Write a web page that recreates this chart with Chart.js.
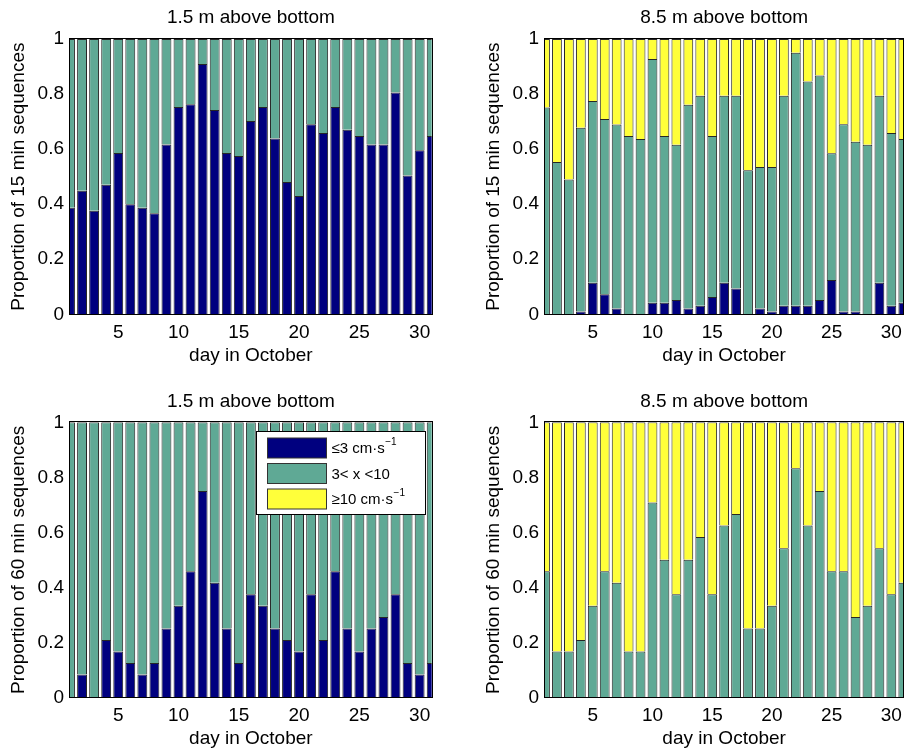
<!DOCTYPE html>
<html>
<head>
<meta charset="utf-8">
<script src="https://cdn.jsdelivr.net/npm/chart.js@4.4.1/dist/chart.umd.min.js"></script>
<style>
  html, body { margin: 0; padding: 0; background: #fff; }
  #wrap { position: relative; width: 909px; height: 754px; }
  #wrap canvas { position: absolute; left: 0; top: 0; }
</style>
</head>
<body>
<div id="wrap">
  <canvas id="p15low" width="909" height="754"></canvas>
  <canvas id="p15high" width="909" height="754"></canvas>
  <canvas id="p60low" width="909" height="754"></canvas>
  <canvas id="p60high" width="909" height="754"></canvas>
</div>
<script>
// ---- data ----------------------------------------------------------------
const days = [1, 2, 3, 4, 5, 6, 7, 8, 9, 10, 11, 12, 13, 14, 15, 16,
              17, 18, 19, 20, 21, 22, 23, 24, 25, 26, 27, 28, 29, 30, 31];

const xTickValues = [5, 10, 15, 20, 25, 30];
const yTickValues = [0, 0.2, 0.4, 0.6, 0.8, 1];
const yTickLabels = ['0', '0.2', '0.4', '0.6', '0.8', '1'];

const heightTitles = ['1.5 m above bottom', '8.5 m above bottom'];
const yTitles = ['Proportion of 15 min sequences', 'Proportion of 60 min sequences'];
const xTitle = 'day in October';

// speed classes: label text and its superscript part
const classNames = ['≤3 cm·s', '3< x <10', '≥10 cm·s'];
const classSup = ['−1', '', '−1'];

// 15 min sequences, 1.5 m above bottom
const slow15m1 = [0.387, 0.449, 0.376, 0.471, 0.586, 0.400, 0.387, 0.367, 0.617, 0.753,
                  0.763, 0.909, 0.742, 0.586, 0.575, 0.702, 0.753, 0.639, 0.481, 0.430,
                  0.690, 0.659, 0.753, 0.670, 0.648, 0.617, 0.617, 0.806, 0.504, 0.596, 0.648];
const mid15m1  = [0.613, 0.551, 0.624, 0.529, 0.414, 0.600, 0.613, 0.633, 0.383, 0.247,
                  0.237, 0.091, 0.258, 0.414, 0.425, 0.298, 0.247, 0.361, 0.519, 0.570,
                  0.310, 0.341, 0.247, 0.330, 0.352, 0.383, 0.383, 0.194, 0.496, 0.404, 0.352];

// 15 min sequences, 8.5 m above bottom
const slow15m8 = [0, 0, 0, 0.010, 0.115, 0.073, 0.021, 0, 0, 0.042,
                  0.042, 0.052, 0.021, 0.031, 0.063, 0.115, 0.094, 0, 0.021, 0.010,
                  0.031, 0.031, 0.031, 0.052, 0.125, 0.010, 0.010, 0, 0.115, 0.031, 0.042];
const mid15m8  = [0.751, 0.553, 0.490, 0.668, 0.660, 0.636, 0.668, 0.648, 0.637, 0.885,
                  0.606, 0.564, 0.740, 0.763, 0.585, 0.679, 0.700, 0.523, 0.514, 0.525,
                  0.763, 0.919, 0.815, 0.815, 0.460, 0.680, 0.617, 0.616, 0.679, 0.628, 0.595];
const fast15m8 = [0.249, 0.447, 0.510, 0.322, 0.225, 0.291, 0.311, 0.352, 0.363, 0.073,
                  0.352, 0.384, 0.239, 0.206, 0.352, 0.206, 0.206, 0.477, 0.465, 0.465,
                  0.206, 0.050, 0.154, 0.133, 0.415, 0.310, 0.373, 0.384, 0.206, 0.341, 0.363];

// 60 min sequences, 1.5 m above bottom
const slow60m1 = [0, 0.083, 0, 0.208, 0.167, 0.125, 0.083, 0.125, 0.250, 0.333,
                  0.458, 0.750, 0.417, 0.250, 0.125, 0.375, 0.333, 0.250, 0.208, 0.167,
                  0.375, 0.208, 0.458, 0.250, 0.167, 0.250, 0.292, 0.375, 0.125, 0.083, 0.125];
const mid60m1  = [1, 0.917, 1, 0.792, 0.833, 0.875, 0.917, 0.875, 0.750, 0.667,
                  0.542, 0.250, 0.583, 0.750, 0.875, 0.625, 0.667, 0.750, 0.792, 0.833,
                  0.625, 0.792, 0.542, 0.750, 0.833, 0.750, 0.708, 0.625, 0.875, 0.917, 0.875];

// 60 min sequences, 8.5 m above bottom
const mid60m8  = [0.458, 0.167, 0.167, 0.208, 0.333, 0.458, 0.417, 0.167, 0.167, 0.708,
                  0.500, 0.375, 0.500, 0.583, 0.375, 0.625, 0.667, 0.250, 0.250, 0.333,
                  0.542, 0.833, 0.625, 0.750, 0.458, 0.458, 0.292, 0.333, 0.542, 0.375, 0.417];
const fast60m8 = [0.542, 0.833, 0.833, 0.792, 0.667, 0.542, 0.583, 0.833, 0.833, 0.292,
                  0.500, 0.625, 0.500, 0.417, 0.625, 0.375, 0.333, 0.750, 0.750, 0.667,
                  0.458, 0.167, 0.375, 0.250, 0.542, 0.542, 0.708, 0.667, 0.458, 0.625, 0.583];

// ---- styling ---------------------------------------------------------------
const classColors = ['#00007f', '#5fa995', '#ffff3a'];
const FONT_FAMILY = '"Liberation Sans", Arial, Helvetica, sans-serif';
const FONT_SIZE = 19;

function series(cls, values) {
  return {
    label: classNames[cls],
    data: days.map((d, i) => ({ x: d, y: values[i] })),
    backgroundColor: classColors[cls],
    borderColor: '#262626',
    borderWidth: 1,
    borderSkipped: 'start',
    inflateAmount: 0,
    barPercentage: 0.82,
    categoryPercentage: 1.0
  };
}

// panel title, axis titles and the box round the axes
const panelText = {
  id: 'panelText',
  afterDraw(chart, args, opts) {
    const ctx = chart.ctx;
    const a = chart.chartArea;
    ctx.save();
    ctx.fillStyle = '#000';
    ctx.font = FONT_SIZE + 'px ' + FONT_FAMILY;
    ctx.textAlign = 'center';
    ctx.textBaseline = 'middle';
    const cx = (a.left + a.right) / 2;
    ctx.fillText(opts.title, cx, a.top - 21);
    ctx.fillText(opts.xTitle, cx, a.bottom + 41);
    ctx.translate(a.left - 51.5, (a.top + a.bottom) / 2);
    ctx.rotate(-Math.PI / 2);
    ctx.fillText(opts.yTitle, 0, 0);
    ctx.restore();

    ctx.save();
    ctx.strokeStyle = '#000';
    ctx.lineWidth = 1;
    ctx.strokeRect(Math.round(a.left) - 0.5, Math.round(a.top) - 0.5,
                   Math.round(a.right) - Math.round(a.left) + 1,
                   Math.round(a.bottom) - Math.round(a.top) + 1);
    ctx.restore();
  }
};

// legend box with the three speed classes
const classLegend = {
  id: 'classLegend',
  afterDraw(chart, args, opts) {
    if (!opts.show) return;
    const ctx = chart.ctx;
    const a = chart.chartArea;
    const bx = Math.round(a.right - 175.5) + 0.5;
    const by = Math.round(a.top + 9) + 0.5;
    const bw = 169, bh = 83;
    ctx.save();
    ctx.fillStyle = '#fff';
    ctx.fillRect(bx, by, bw, bh);
    ctx.strokeStyle = '#000';
    ctx.lineWidth = 1;
    ctx.strokeRect(bx, by, bw, bh);
    const rowTop = [6.5, 32, 57.5];
    for (let k = 0; k < 3; k++) {
      const sy = by + rowTop[k];
      ctx.fillStyle = classColors[k];
      ctx.fillRect(bx + 11, sy, 59, 20);
      ctx.strokeStyle = '#333';
      ctx.strokeRect(bx + 11, sy, 59, 20);
      ctx.fillStyle = '#000';
      ctx.textAlign = 'left';
      ctx.textBaseline = 'middle';
      ctx.font = '15px ' + FONT_FAMILY;
      const tx = bx + 75;
      const ty = sy + 11;
      ctx.fillText(classNames[k], tx, ty);
      if (classSup[k]) {
        const w = ctx.measureText(classNames[k]).width;
        ctx.font = '10px ' + FONT_FAMILY;
        ctx.fillText(classSup[k], tx + w + 0.5, ty - 7);
      }
    }
    ctx.restore();
  }
};

function makePanel(canvasId, area, datasets, title, yTitle, withLegend) {
  const [L, T, R, B] = area;
  const yAxisWidth = 50, xAxisHeight = 40;
  return new Chart(document.getElementById(canvasId), {
    type: 'bar',
    data: { datasets },
    options: {
      responsive: false,
      animation: false,
      devicePixelRatio: 1,
      layout: {
        padding: { left: L - yAxisWidth, top: T, right: 909 - R, bottom: 754 - B - xAxisHeight }
      },
      scales: {
        x: {
          type: 'linear',
          min: 1, max: 31,
          offset: false,
          stacked: true,
          grid: { display: false, drawTicks: false },
          border: { display: false },
          afterBuildTicks: s => { s.ticks = xTickValues.map(v => ({ value: v })); },
          afterFit: s => { s.height = xAxisHeight; },
          ticks: {
            color: '#000',
            font: { family: FONT_FAMILY, size: FONT_SIZE },
            padding: 7,
            maxRotation: 0,
            autoSkip: false,
            callback: v => String(v)
          }
        },
        y: {
          min: 0, max: 1,
          stacked: true,
          grid: { display: false, drawTicks: false },
          border: { display: false },
          afterBuildTicks: s => { s.ticks = yTickValues.map(v => ({ value: v })); },
          afterFit: s => { s.width = yAxisWidth; },
          ticks: {
            color: '#000',
            font: { family: FONT_FAMILY, size: FONT_SIZE },
            padding: 6,
            autoSkip: false,
            callback: (v, i) => yTickLabels[i]
          }
        }
      },
      plugins: {
        legend: { display: false },
        tooltip: { enabled: false },
        panelText: { title, xTitle, yTitle },
        classLegend: { show: withLegend }
      }
    },
    plugins: [panelText, classLegend]
  });
}

makePanel('p15low', [70, 39, 431.7, 314.3],
  [series(0, slow15m1), series(1, mid15m1)],
  heightTitles[0], yTitles[0], false);

makePanel('p15high', [545, 39, 906.7, 314.3],
  [series(0, slow15m8), series(1, mid15m8), series(2, fast15m8)],
  heightTitles[1], yTitles[0], false);

makePanel('p60low', [70, 422.3, 431.7, 697.3],
  [series(0, slow60m1), series(1, mid60m1)],
  heightTitles[0], yTitles[1], true);

makePanel('p60high', [545, 422.3, 906.7, 697.3],
  [series(1, mid60m8), series(2, fast60m8)],
  heightTitles[1], yTitles[1], false);
</script>
</body>
</html>
